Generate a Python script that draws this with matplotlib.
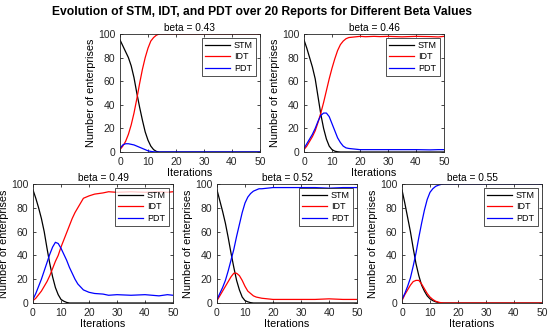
import matplotlib
matplotlib.use("Agg")
import matplotlib.pyplot as plt

plt.rcParams['font.family'] = ['Liberation Sans', 'DejaVu Sans']

ITER = [0, 1, 2, 3, 4, 5, 6, 7, 8, 9, 10, 11, 12, 13, 14, 15, 16,
        18, 20, 22, 25, 27, 30, 35, 40, 45, 48, 50]

BETAS = ['0.43', '0.46', '0.49', '0.52', '0.55']

# beta = 0.43
stm_043 = [95, 90, 85, 80, 73, 63, 50, 38, 27, 17, 10, 5, 2, 0.5] + [0] * 14
idt_043 = [2, 5, 9, 15, 23, 33, 45, 58, 70, 80, 88, 94, 97, 99, 100] + [100] * 13
pdt_043 = [3, 6, 7, 7, 6.5, 6, 5, 4, 3, 2, 1, 0.5, 0.2, 0] + [0] * 14

# beta = 0.46
stm_046 = [95, 88, 80, 72, 62, 47, 32, 20, 11, 5, 2, 0.7, 0.2, 0] + [0] * 14
idt_046 = [2, 5, 9, 13, 18, 25, 33, 42, 52, 62, 71, 79, 86, 91, 94, 96, 97,
           97.5, 98, 97.7, 98, 97.8, 98, 97.6, 98, 97.8, 97.5, 98]
pdt_046 = [3, 7, 11, 15, 20, 26, 31, 33, 33, 30, 24, 18, 12, 8, 5, 3.5, 3,
           2.5, 2, 2, 2, 2, 2, 2, 2, 1.8, 2, 2]

# beta = 0.49
stm_049 = [95, 88, 80, 71, 60, 46, 33, 22, 13, 7, 3, 1.5, 0.5, 0] + [0] * 14
idt_049 = [2, 4, 7, 10, 14, 18, 23, 29, 35, 40, 47, 53, 59, 65, 71, 76, 80,
           88, 90, 91.5, 92.5, 93.5, 93, 93.5, 93, 93.5, 93, 93.5]
pdt_049 = [3, 8, 14, 20, 27, 34, 41, 47, 51, 50, 46, 41, 36, 30, 25, 20, 16,
           11, 9, 8, 7.5, 6.5, 7, 6.5, 7, 6, 7, 6.5]

# beta = 0.52
stm_052 = [95, 86, 77, 67, 55, 42, 30, 19, 11, 5, 2, 1, 0.3, 0] + [0] * 14
idt_052 = [2, 6, 10, 14, 18, 22, 25, 25, 23, 19, 14, 10, 8, 6, 5, 4.5, 4,
           3.5, 3, 3, 3, 3, 3, 3, 3.5, 3, 3, 3]
pdt_052 = [3, 8, 13, 19, 27, 36, 45, 56, 66, 76, 84, 89, 92, 94, 95, 96, 96,
           96.5, 97, 97, 97, 97, 97, 97, 96.5, 97, 97, 97]

# beta = 0.55
stm_055 = [95, 84, 72, 60, 46, 33, 23, 15, 10, 6, 3.5, 2, 1, 0.4, 0] + [0] * 13
idt_055 = [2, 7, 11, 15, 18, 19, 19, 16, 12, 8, 5, 3, 1.5, 0.7, 0.2, 0] + [0] * 12
pdt_055 = [3, 8, 14, 21, 31, 42, 55, 67, 78, 87, 93, 96, 98, 99, 99.7, 100] + [100] * 12

SERIES = [
    (stm_043, idt_043, pdt_043),
    (stm_046, idt_046, pdt_046),
    (stm_049, idt_049, pdt_049),
    (stm_052, idt_052, pdt_052),
    (stm_055, idt_055, pdt_055),
]

W, H = 550, 334
fig = plt.figure(figsize=(W / 100, H / 100), dpi=100)

# axes boxes in pixels: left, top, right, bottom
boxes = [
    (120, 34, 260, 152),
    (304, 34, 444, 152),
    (33, 184, 173, 303),
    (217, 184, 357, 303),
    (402, 184, 542, 303),
]

for (l, t, r, b), beta, (stm, idt, pdt) in zip(boxes, BETAS, SERIES):
    ax = fig.add_axes([l / W, 1 - b / H, (r - l) / W, (b - t) / H])
    ax.plot(ITER, stm, color='black', lw=0.9, label='STM')
    ax.plot(ITER, idt, color='red', lw=0.9, label='IDT')
    ax.plot(ITER, pdt, color='blue', lw=0.9, label='PDT')
    ax.set_xlim(0, 50)
    ax.set_ylim(0, 100)
    ax.set_xticks([0, 10, 20, 30, 40, 50])
    ax.set_yticks([0, 20, 40, 60, 80, 100])
    ax.tick_params(direction='in', length=2.5, width=0.6, labelsize=7.5,
                   colors='#262626', pad=3.5, top=True, right=True)
    for s in ax.spines.values():
        s.set_linewidth(0.6)
        s.set_color('#262626')
    ax.set_title(f'beta = {beta}', fontsize=7.3, pad=2)
    ax.set_xlabel('Iterations', fontsize=7.8, labelpad=0.5)
    ax.set_ylabel('Number of enterprises', fontsize=7.8, labelpad=1)
    leg = ax.legend(loc='upper right', fontsize=6.5, frameon=True, fancybox=False,
                    edgecolor='black', borderaxespad=0.45, handlelength=2.8,
                    borderpad=0.35, labelspacing=0.25, handletextpad=0.4)
    leg.get_frame().set_linewidth(0.6)

fig.suptitle('Evolution of STM, IDT, and PDT over 20 Reports for Different Beta Values',
             fontsize=8.7, fontweight='bold', x=0.477, y=1 - 12 / H, va='center')

fig.savefig('out.png', dpi=100)
